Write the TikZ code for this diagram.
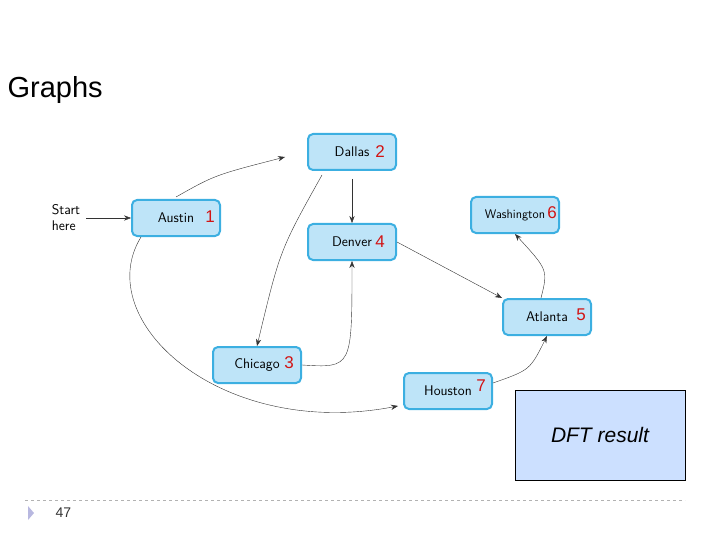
\documentclass[tikz,border=0pt]{standalone}
\usepackage{fontspec}
\setmainfont{Liberation Sans}
\usetikzlibrary{positioning, calc, arrows.meta}
\definecolor{cityfill}{RGB}{190,228,248}
\definecolor{cityedge}{RGB}{60,175,225}
\definecolor{numred}{RGB}{210,20,20}
\definecolor{dftfill}{RGB}{204,224,255}
\begin{document}
\begin{tikzpicture}
    [x=1pt, y=-1pt,
    citynode/.style={rectangle, rounded corners=5pt, draw=cityedge, line width=2pt, fill=cityfill,
        minimum width=88pt, minimum height=36pt, font=\fontsize{14}{16}\sffamily},
    num/.style={text=numred, font=\fontsize{17}{19}\selectfont},
    edge/.style={-{Stealth[length=7pt]}, thin, black!80},]

    \useasboundingbox (0,0) rectangle (720,540);

    %Nodes
    \node[anchor=west, font=\fontsize{29}{31}\selectfont] (title) at (4,90) {Graphs};
    \node[align=left, font=\fontsize{14}{16}\sffamily, inner sep=0pt] (start) at (66,218) {Start\\here};

    \node[citynode](austin) at (176,218) {Austin\hspace{14pt}};
    \node[citynode](dallas) at (352,152) {Dallas\hspace{14pt}};
    \node[citynode](denver) at (352,242) {Denver\hspace{16pt}};
    \node[citynode](chicago) at (257,365) {Chicago\hspace{14pt}};
    \node[citynode](houston) at (448,391) {Houston\hspace{14pt}};
    \node[citynode](atlanta) at (547,317) {Atlanta\hspace{16pt}};
    \node[citynode, font=\fontsize{12.5}{14}\sffamily](washington) at (515,215) {Washington\hspace{16pt}};

    \node[num] at (210,217) {1};
    \node[num] at (380,152) {2};
    \node[num] at (289,363) {3};
    \node[num] at (380,242) {4};
    \node[num] at (581,315) {5};
    \node[num] at (552,213) {6};
    \node[num] at (481,386) {7};

    \node[draw=black, fill=dftfill, minimum width=170pt, minimum height=90pt,
        font=\fontsize{21}{23}\itshape] (dft) at (600,435) {DFT result};

    \coordinate (dallasIn) at (285,157);
    \coordinate (houstonIn) at (398,406);

    %Lines
    \draw[edge] (start.east) ++(6,0) coordinate (s) -- (austin.west);
    \draw[edge] (austin.north) ++(0,-2) .. controls (215,175) .. (dallasIn);
    \draw[edge] (dallas.south west) ++(15,4) .. controls (280,250) .. (chicago.north);
    \draw[edge] (dallas.south) ++(0,8) -- (denver.north);
    \draw[edge] (chicago.east) .. controls (352,368) .. (denver.south);
    \draw[edge] (denver.east) -- (atlanta.north west);
    \draw[edge] (houston.east) ++(0,-8) .. controls (530,370) .. (atlanta.south);
    \draw[edge] (atlanta.north) ++(-6,0) .. controls (548,270) .. (washington.south);
    \draw[edge] (austin.south west) ++(10,0) .. controls (90,320) and (220,440) .. (houstonIn);

    %Footer
    \draw[gray!60, dashed] (25,500) -- (685,500);
    \fill[gray!60!blue!40] (28,506) -- (34,513) -- (28,520) -- cycle;
    \node[anchor=west, font=\fontsize{14}{16}\selectfont, text=black!80] (page) at (52,513) {47};
\end{tikzpicture}
\end{document}
